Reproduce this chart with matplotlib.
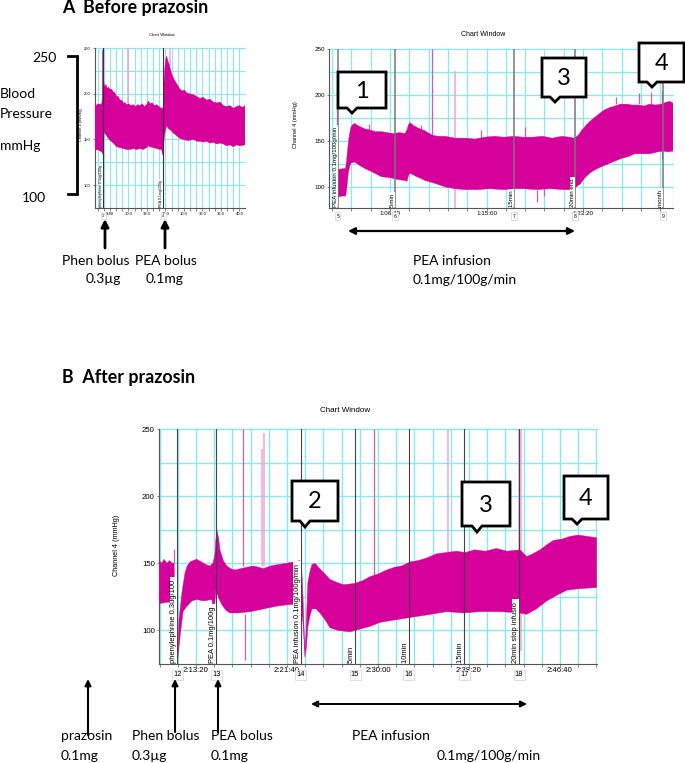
import numpy as np
import matplotlib
matplotlib.use("Agg")
import matplotlib.pyplot as plt
from matplotlib.patches import Polygon

plt.rcParams['font.family'] = ['Lato', 'DejaVu Sans']

# ---------- Panel A left (bolus) ----------
a1_up_t = [19, 26, 33, 40, 48, 55, 58, 60, 64, 67, 72, 78, 85, 92, 100, 108, 118, 126, 136, 145, 154, 163, 172, 182, 190, 200, 212, 226, 238, 250, 262, 274, 285, 298, 307, 316, 328, 340, 352, 365, 379, 384, 387, 390, 395, 401, 406, 412, 420, 433, 445, 460, 478, 490, 502, 514, 530, 550, 568, 586, 604, 622, 640, 658, 676, 694, 712, 730, 748, 766, 784, 800, 815, 829]
a1_up_v = [188, 187, 189, 188, 189, 188, 195, 248, 248, 212, 208, 210, 206, 207, 205, 205, 202, 201, 197, 197, 193, 193, 190, 190, 188, 189, 187, 188, 186, 188, 187, 189, 186, 188, 192, 189, 190, 187, 188, 186, 184, 183, 186, 205, 225, 238, 241, 236, 232, 222, 216, 211, 205, 203, 204, 201, 200, 199, 197, 195, 196, 193, 194, 191, 190, 191, 187, 186, 187, 184, 186, 187, 185, 187]
a1_lo_t = [19, 33, 48, 55, 60, 64, 68, 78, 88, 100, 118, 136, 154, 172, 190, 208, 226, 244, 262, 280, 298, 307, 316, 334, 352, 370, 379, 384, 388, 392, 397, 406, 415, 428, 442, 460, 478, 496, 514, 532, 550, 568, 586, 604, 622, 640, 658, 676, 694, 712, 730, 748, 766, 784, 800, 829]
a1_lo_v = [138, 139, 137, 137, 134, 134, 158, 155, 152, 149, 146, 142, 141, 140, 139, 139, 140, 139, 140, 139, 141, 143, 142, 141, 140, 139, 139, 133, 135, 150, 158, 165, 162, 160, 157, 154, 151, 150, 149, 149, 150, 148, 148, 147, 148, 146, 147, 145, 146, 145, 143, 144, 142, 144, 143, 144]
a1_events = [64, 388]
a1_event_text = ["phenylephrine 0.3ug/100g", "PEA 0.1mg/100g"]
a1_event_num = ["3", "4"]
a1_spike_t = [195, 423]
a1_spike_lo = [190, 230]
a1_spike_hi = [250, 250]
a1_spike_pale = [True, True]
a1_xticks = [100, 200, 300, 400, 500, 600, 700, 800]
a1_xlabels = ["9:40", "30:0", "32:0", "30:0", "10:0", "32:0", "36:0", "40:0"]
yticks = [100, 150, 200, 250]

# ---------- Panel A right (infusion) ----------
a2_up_t = [3729, 3770, 3776, 3784, 3791, 3798, 3808, 3818, 3830, 3850, 3870, 3895, 3925, 3957, 3985, 4015, 4050, 4077, 4088, 4095, 4103, 4120, 4145, 4181, 4220, 4250, 4285, 4337, 4390, 4440, 4490, 4540, 4590, 4640, 4690, 4740, 4790, 4840, 4890, 4930, 4955, 4975, 4995, 5020, 5045, 5075, 5105, 5135, 5165, 5195, 5225, 5255, 5285, 5315, 5345, 5375, 5405, 5430, 5450, 5466]
a2_up_v = [119, 120, 130, 148, 158, 165, 168, 169, 167, 165, 163, 162, 160, 160, 159, 158, 159, 158, 162, 167, 170, 167, 164, 161, 156, 155, 155, 153, 153, 152, 154, 155, 154, 155, 154, 154, 155, 153, 155, 154, 153, 156, 162, 168, 173, 178, 183, 186, 188, 190, 190, 189, 189, 188, 190, 189, 190, 192, 193, 191]
a2_lo_t = [3729, 3750, 3770, 3777, 3784, 3791, 3798, 3818, 3845, 3870, 3910, 3957, 4000, 4040, 4077, 4088, 4095, 4103, 4130, 4181, 4230, 4285, 4337, 4390, 4450, 4518, 4590, 4650, 4690, 4760, 4830, 4900, 4945, 4965, 4985, 5010, 5035, 5065, 5095, 5130, 5165, 5200, 5235, 5268, 5305, 5346, 5385, 5415, 5440, 5466]
a2_lo_v = [89, 90, 90, 100, 115, 122, 126, 127, 123, 120, 116, 111, 110, 108, 107, 106, 112, 115, 112, 107, 104, 100, 98, 97, 97, 98, 97, 98, 98, 97, 98, 97, 97, 100, 103, 110, 115, 119, 122, 125, 128, 131, 133, 136, 136, 136, 138, 139, 138, 139]
a2_events = [3729, 4026, 4642, 4958, 5414]
a2_event_text = ["PEA infusion 0.1mg/100g/min", "5min", "15min", "20min end", "month"]
a2_event_num = ["5", "6", "7", "8", "9"]
a2_spike_t = [3725, 4220, 4335, 3890, 4160, 4470, 4700, 4760, 4800, 5170, 5290, 5350, 5410]
a2_spike_lo = [150, 155, 77, 160, 155, 153, 154, 84, 90, 190, 190, 190, 130]
a2_spike_hi = [215, 250, 226, 168, 167, 162, 165, 97, 98, 198, 202, 203, 205]
a2_spike_pale = [False, False, True, False, False, False, False, False, False, False, False, False, False]
a2_xticks = [4000, 4500, 5000]
a2_xlabels = ["1:06:40", "1:15:00", "1:23:20"]

# ---------- Panel B ----------
b_up_t = [7799, 7812, 7825, 7840, 7855, 7870, 7880, 7885, 7896, 7901, 7907, 7915, 7923, 7932, 7940, 7952, 7967, 7985, 8004, 8030, 8055, 8077, 8093, 8104, 8110, 8115, 8125, 8132, 8150, 8170, 8190, 8214, 8245, 8280, 8315, 8345, 8370, 8410, 8450, 8498, 8535, 8571, 8582, 8588, 8594, 8599, 8604, 8609, 8615, 8625, 8637, 8654, 8680, 8709, 8736, 8770, 8810, 8874, 8915, 8956, 9000, 9048, 9090, 9130, 9176, 9220, 9270, 9320, 9377, 9430, 9480, 9530, 9590, 9650, 9710, 9780, 9817, 9850, 9890, 9930, 9963, 10010, 10055, 10100, 10150, 10201]
b_up_v = [152, 150, 153, 150, 152, 150, 150, 120, 85, 84, 108, 118, 128, 136, 143, 148, 151, 152, 153, 151, 149, 148, 150, 156, 168, 175, 168, 160, 152, 148, 146, 145, 146, 147, 148, 147, 146, 148, 149, 150, 151, 152, 143, 125, 100, 85, 95, 115, 136, 143, 149, 150, 146, 142, 138, 136, 134, 135, 137, 140, 142, 145, 147, 148, 151, 152, 154, 157, 158, 159, 158, 160, 159, 161, 159, 160, 155, 157, 160, 164, 167, 168, 170, 171, 170, 169]
b_lo_t = [7799, 7840, 7885, 7896, 7901, 7907, 7915, 7929, 7950, 7978, 8004, 8040, 8088, 8093, 8100, 8110, 8125, 8143, 8165, 8187, 8230, 8300, 8370, 8440, 8498, 8571, 8582, 8588, 8599, 8607, 8615, 8625, 8637, 8660, 8681, 8709, 8736, 8780, 8846, 8900, 8956, 9011, 9100, 9194, 9290, 9377, 9470, 9560, 9670, 9780, 9817, 9870, 9927, 9980, 10037, 10100, 10201]
b_lo_v = [120, 121, 121, 76, 80, 88, 98, 114, 118, 122, 123, 122, 123, 113, 116, 130, 124, 119, 115, 113, 113, 114, 116, 118, 119, 120, 112, 106, 80, 88, 103, 110, 116, 116, 113, 108, 102, 100, 99, 101, 103, 106, 108, 110, 112, 114, 113, 114, 114, 113, 112, 116, 122, 126, 130, 131, 132]
b_events = [7897, 8112, 8575, 8874, 9170, 9474, 9775]
b_event_text = ["phenylephrine 0.3ug/100", "PEA 0.1mg/100g", "PEA infusion 0.1mg/100g/min", "5min", "10min", "15min", "20min stop infusio"]
b_event_num = ["12", "13", "14", "15", "16", "17", "18"]
b_spike_t = [7879, 8260, 8268, 8362, 8374, 8980, 9385, 9777, 9785]
b_spike_lo = [150, 148, 78, 148, 148, 140, 158, 85, 85]
b_spike_hi = [161, 250, 112, 235, 247, 250, 250, 250, 250]
b_spike_pale = [False, False, False, True, True, False, True, True, True]
b_xticks = [8000, 8500, 9000, 9500, 10000]
b_xlabels = ["2:13:20", "2:21:40", "2:30:00", "2:38:20", "2:46:40"]

# ---------- Colours ----------
TRACE = "#d6009a"
PALE = "#e9a6d6"
GRID = "#86eaee"
W, H = 685, 763

fig = plt.figure(figsize=(W / 100, H / 100), dpi=100, facecolor="white")


def axes_px(x0, y0, x1, y1):
    return fig.add_axes([x0 / W, 1 - y1 / H, (x1 - x0) / W, (y1 - y0) / H])


def panel(box, xlim, ylim, up_t, up_v, lo_t, lo_v, events, ev_text, ev_num,
          sp_t, sp_lo, sp_hi, sp_pale, xstep, xticks, xlabels,
          fs_tick, fs_ev, grid_lw, ev_lw, ev_col, box_dy, label_dy, num_fs):
    ax = axes_px(*box)
    ax.set_xlim(*xlim)
    ax.set_ylim(*ylim)
    first = np.ceil(xlim[0] / xstep) * xstep
    vgrid = np.arange(first, xlim[1] + 1, xstep)
    for v in vgrid:
        ax.axvline(v, color=GRID, lw=grid_lw, zorder=1)
    for v in np.arange(100, 251, 25):
        ax.axhline(v, color=GRID, lw=grid_lw, zorder=1, clip_on=False)
    ax.axvline(xlim[1], color=GRID, lw=grid_lw, zorder=1)
    for t, lo, hi, pale in zip(sp_t, sp_lo, sp_hi, sp_pale):
        ax.vlines(t, lo, hi, color=PALE if pale else "#cf5ab0", lw=1.1 if pale else 0.9, zorder=2)
    ax.fill(np.r_[up_t, lo_t[::-1]], np.r_[up_v, lo_v[::-1]], color=TRACE, lw=0.3, zorder=3)
    for t in events:
        ax.axvline(t, color=ev_col, lw=ev_lw, zorder=4)
    for t, s in zip(events, ev_text):
        ax.text(t, ylim[0] + (ylim[1] - ylim[0]) * 0.006, s + " ", rotation=90, ha="right", va="bottom",
                fontsize=fs_ev, family="Liberation Sans", zorder=5, color="black",
                bbox=dict(fc="white", ec="none", pad=0.1))
    for sp in ["top", "right"]:
        ax.spines[sp].set_visible(False)
    for sp in ["left", "bottom"]:
        ax.spines[sp].set_color("#555555")
        ax.spines[sp].set_linewidth(0.8)
    ax.set_yticks(yticks)
    ax.set_yticklabels([str(v) for v in yticks], fontsize=fs_tick, family="Liberation Sans")
    ax.set_xticks(vgrid)
    ax.set_xticklabels([])
    ax.tick_params(axis="x", length=2, width=0.5, color="#555555")
    ax.tick_params(axis="y", length=1.5, width=0.5, color="#555555", pad=1.5)
    trans = ax.get_xaxis_transform()
    for t, s in zip(xticks, xlabels):
        ax.annotate(s, (t, 0), xycoords=trans, xytext=(0, -label_dy), textcoords="offset pixels",
                    ha="center", va="center", fontsize=fs_tick, family="Liberation Sans")
    for t, s in zip(events, ev_num):
        ax.annotate(s, (t, 0), xycoords=trans, xytext=(0, -box_dy), textcoords="offset pixels",
                    ha="center", va="center", fontsize=num_fs, family="Liberation Sans",
                    bbox=dict(fc="white", ec="#d0d0d0", lw=0.5, pad=0.9))
    return ax


panel((95, 48, 245, 208), (19, 829), (75, 250), a1_up_t, a1_up_v, a1_lo_t, a1_lo_v,
      a1_events, a1_event_text, a1_event_num, a1_spike_t, a1_spike_lo, a1_spike_hi,
      a1_spike_pale, 33.3, a1_xticks, a1_xlabels, 3, 2.6, 0.8, 0.8, "#333333", 8, 6, 2.5)
panel((329, 49, 673, 208), (3684, 5466), (77, 250), a2_up_t, a2_up_v, a2_lo_t, a2_lo_v,
      a2_events, a2_event_text, a2_event_num, a2_spike_t, a2_spike_lo, a2_spike_hi,
      a2_spike_pale, 100, a2_xticks, a2_xlabels, 4.5, 4.4, 0.9, 1.1, "#777777", 8, 5, 3.6)
panel((159, 429, 597, 664), (7797, 10203), (75, 250), b_up_t, b_up_v, b_lo_t, b_lo_v,
      b_events, b_event_text, b_event_num, b_spike_t, b_spike_lo, b_spike_hi,
      b_spike_pale, 100, b_xticks, b_xlabels, 5.6, 5.4, 1.0, 0.8, "#444444", 11, 7, 5.4)

# ---------- Overlay: annotations in picture pixels ----------
ov = fig.add_axes([0, 0, 1, 1], zorder=10)
ov.set_xlim(0, W)
ov.set_ylim(H, 0)
ov.axis("off")
ov.patch.set_alpha(0)


def label(x, y, s, ha="left", size=10, **kw):
    ov.text(x, y, s, ha=ha, va="center", fontsize=size, color="black", **kw)


def arrow(x0, y0, x1, y1, style="-|>", lw=2.0, ms=11):
    ov.annotate("", xy=(x1, y1), xytext=(x0, y0),
                arrowprops=dict(arrowstyle=style, lw=lw, color="black", mutation_scale=ms,
                                shrinkA=0, shrinkB=0))


def callout(x0, y0, x1, y1, tipx, tipy, s):
    pts = [(x0, y0), (x1, y0), (x1, y1), (tipx + 5, y1), (tipx, tipy), (tipx - 5, y1), (x0, y1)]
    ov.add_patch(Polygon(pts, closed=True, fc="white", ec="black", lw=2.0, joinstyle="miter"))
    ov.text((x0 + x1) / 2, (y0 + y1) / 2 + 1, s, ha="center", va="center", fontsize=17, color="black")


label(62, 7, "A  Before prazosin", weight="bold", size=12.8)
label(62, 377, "B  After prazosin", weight="bold", size=12.8)

label(32, 58, "250")
label(22, 198, "100")
label(0, 94, "Blood")
label(0, 114, "Pressure")
label(0, 146, "mmHg")
ov.plot([68, 77, 77, 68], [56, 56, 194, 194], color="black", lw=2.0, solid_joinstyle="miter")

arrow(105, 248, 105, 219)
arrow(165, 248, 165, 219)
label(62, 261, "Phen bolus")
label(135, 261, "PEA bolus")
label(86, 279, "0.3µg")
label(146, 279, "0.1mg")

arrow(348, 231, 575, 231, style="<|-|>", lw=1.6, ms=10)
label(413, 261, "PEA infusion")
label(413, 280, "0.1mg/100g/min")

arrow(88, 735, 88, 679, lw=1.5, ms=9)
arrow(175, 732, 175, 679, lw=1.5, ms=9)
arrow(218, 732, 218, 679, lw=1.5, ms=9)
arrow(311, 704, 527, 704, style="<|-|>", lw=1.4, ms=9)
label(61, 736, "prazosin")
label(61, 756, "0.1mg")
label(132, 736, "Phen bolus")
label(132, 756, "0.3µg")
label(211, 736, "PEA bolus")
label(211, 756, "0.1mg")
label(352, 736, "PEA infusion")
label(437, 756, "0.1mg/100g/min")

sans = "Liberation Sans"
ov.text(162, 35, "Chart Window", ha="center", va="center", fontsize=3, family=sans)
ov.text(483, 35, "Chart Window", ha="center", va="center", fontsize=5, family=sans)
ov.text(345, 410, "Chart Window", ha="center", va="center", fontsize=5.8, family=sans)
ov.text(81, 125, "Channel 4 (mmHg)", rotation=90, ha="center", va="center", fontsize=2.8, family=sans)
ov.text(296, 125, "Channel 4 (mmHg)", rotation=90, ha="center", va="center", fontsize=4, family=sans)
ov.text(117, 545, "Channel 4 (mmHg)", rotation=90, ha="center", va="center", fontsize=5.2, family=sans)

callout(338, 72, 386, 108, 352, 113, "1")
callout(542, 58, 586, 97, 555, 102, "3")
callout(639, 43, 684, 82, 652, 87, "4")
callout(292, 481, 338, 521, 305, 527, "2")
callout(462, 482, 510, 526, 477, 532, "3")
callout(564, 476, 608, 519, 577, 524, "4")

fig.savefig("out.png", dpi=100, facecolor="white")
